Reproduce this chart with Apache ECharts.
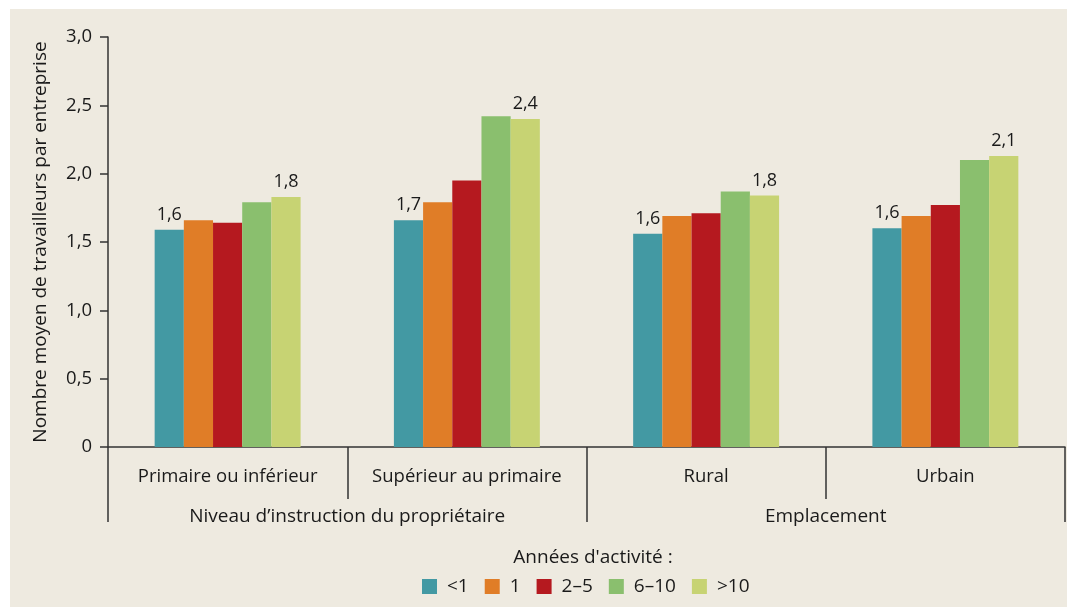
<!DOCTYPE html>
<html>
<head>
<meta charset="utf-8">
<script src="https://cdn.jsdelivr.net/npm/echarts@6/dist/echarts.min.js"></script>
<style>
    html, body { margin: 0; padding: 0; background: #ffffff; }
    #chart { position: absolute; left: 10px; top: 9px; width: 1057px; height: 598px; }
</style>
</head>
<body>
<div id="chart"></div>
<script>
// données
var categories = ['Primaire ou inférieur', 'Supérieur au primaire', 'Rural', 'Urbain'];
var groups = ['Niveau d\u2019instruction du propriétaire', 'Emplacement'];
var seriesNames = ['<1', '1', '2\u20135', '6\u201310', '>10'];
var valLess1 = [1.59, 1.66, 1.56, 1.60];
var val1 = [1.66, 1.79, 1.69, 1.69];
var val2to5 = [1.64, 1.95, 1.71, 1.77];
var val6to10 = [1.79, 2.42, 1.87, 2.10];
var valMore10 = [1.83, 2.40, 1.84, 2.13];
var yTicks = [0, 0.5, 1.0, 1.5, 2.0, 2.5, 3.0];

var colors = ['#4399A3', '#E07D27', '#B5191F', '#8ABF6E', '#C7D373'];
var font = 'Open Sans';
var chart = echarts.init(document.getElementById('chart'));

function fmt(v) {
    if (v === 0) return '0';
    return v.toFixed(1).replace('.', ',');
}

var allValues = [valLess1, val1, val2to5, val6to10, valMore10];
var series = [];
for (var i = 0; i < seriesNames.length; i++) {
    var withLabel = (i === 0 || i === seriesNames.length - 1);
    series.push({
        name: seriesNames[i],
        type: 'bar',
        xAxisIndex: 0,
        barGap: '0%',
        barCategoryGap: '39%',
        itemStyle: { color: colors[i] },
        label: {
            show: withLabel,
            position: 'top',
            distance: 6,
            color: '#1a1a1a',
            fontFamily: font,
            fontSize: 18,
            formatter: function (p) { return fmt(p.value); }
        },
        emphasis: { disabled: true },
        data: allValues[i]
    });
}

var option = {
    backgroundColor: '#EEEAE0',
    animation: false,
    textStyle: { fontFamily: font },
    grid: { left: 98, right: 2, top: 28, bottom: 160 },
    title: {
        text: "Années d'activité :",
        left: 578,
        top: 534,
        textAlign: 'center',
        textStyle: { fontFamily: font, fontSize: 19, fontWeight: 'normal', color: '#1a1a1a' }
    },
    legend: {
        data: seriesNames,
        left: 412,
        top: 568,
        padding: 0,
        icon: 'rect',
        itemWidth: 15,
        itemHeight: 15,
        itemGap: 16,
        textStyle: { fontFamily: font, fontSize: 19, color: '#1a1a1a', padding: [0, 0, 0, 5] }
    },
    xAxis: [
        {
            type: 'category',
            data: categories,
            position: 'bottom',
            axisLine: { lineStyle: { color: '#333', width: 1.5 } },
            axisTick: { show: true, length: 52, interval: 0, lineStyle: { color: '#333', width: 1.5 } },
            axisLabel: { interval: 0, margin: 20, fontSize: 18.5, color: '#1a1a1a', fontFamily: font }
        },
        {
            type: 'category',
            data: groups,
            position: 'bottom',
            axisLine: { show: false },
            axisTick: { show: true, length: 75, interval: 0, lineStyle: { color: '#333', width: 1.5 } },
            axisLabel: { interval: 0, margin: 60, fontSize: 19, color: '#1a1a1a', fontFamily: font }
        }
    ],
    yAxis: {
        type: 'value',
        min: yTicks[0],
        max: yTicks[yTicks.length - 1],
        interval: 0.5,
        name: 'Nombre moyen de travailleurs par entreprise',
        nameLocation: 'middle',
        nameGap: 58,
        nameTextStyle: { fontFamily: font, fontSize: 19, color: '#1a1a1a' },
        axisLine: { show: true, lineStyle: { color: '#333', width: 1.5 } },
        axisTick: { show: true, length: 8, lineStyle: { color: '#333', width: 1.5 } },
        splitLine: { show: false },
        axisLabel: { margin: 16, fontSize: 18.5, color: '#1a1a1a', fontFamily: font, formatter: fmt }
    },
    series: series
};

chart.setOption(option);
</script>
</body>
</html>
